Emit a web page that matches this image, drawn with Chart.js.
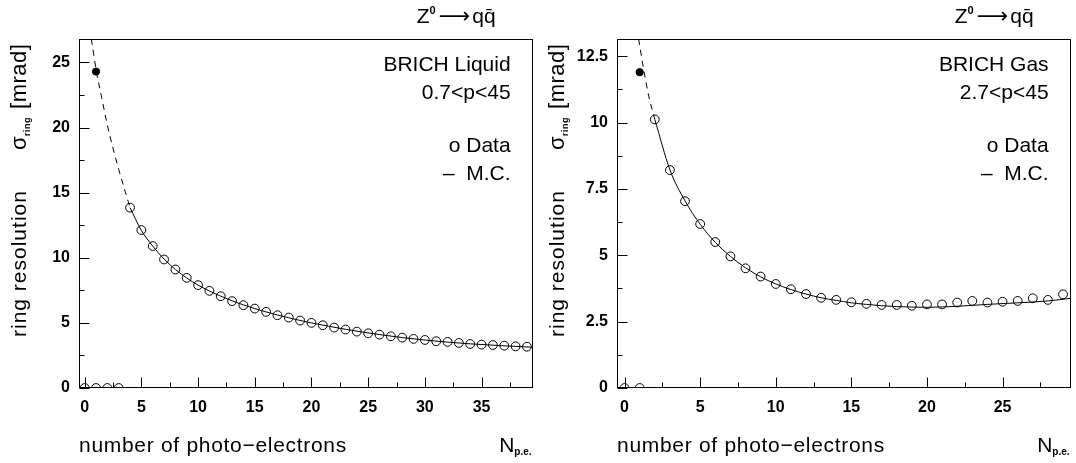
<!DOCTYPE html>
<html>
<head>
<meta charset="utf-8">
<script src="https://cdn.jsdelivr.net/npm/chart.js@4.4.1/dist/chart.umd.min.js"></script>
<style>
    html, body { margin: 0; padding: 0; background: #fff; }
    #wrap { position: relative; width: 1076px; height: 463px; }
    canvas { position: absolute; top: 0; }
</style>
</head>
<body>
<div id="wrap">
    <canvas id="liquid" width="538" height="463" style="left:0px"></canvas>
    <canvas id="gas" width="539" height="463" style="left:537px"></canvas>
</div>
<script>
// BRICH liquid radiator
const liquidN = [4, 5, 6, 7, 8, 9, 10, 11, 12, 13, 14, 15, 16, 17, 18, 19, 20, 21, 22, 23, 24, 25, 26, 27, 28, 29, 30, 31, 32, 33, 34, 35, 36, 37, 38, 39];
const liquidSigma = [13.85, 12.13, 10.9, 9.87, 9.1, 8.46, 7.9, 7.46, 7.05, 6.67, 6.36, 6.1, 5.85, 5.59, 5.41, 5.18, 5.0, 4.82, 4.64, 4.49, 4.33, 4.2, 4.1, 3.97, 3.87, 3.77, 3.69, 3.59, 3.54, 3.46, 3.38, 3.33, 3.3, 3.25, 3.2, 3.17];
const liquidZeroN = [0, 1, 2, 3];
const liquidZeroSigma = [0, 0, 0, 0];
const liquidFirstN = [1];
const liquidFirstSigma = [24.3];
const liquidMcDashN = [0.59, 1, 1.5, 2, 2.5, 3, 3.5, 4];
const liquidMcDashSigma = [26.8, 24.5, 22.3, 20.2, 18.4, 16.8, 15.3, 13.85];
const liquidMcN = [4, 5, 6, 7, 8, 9, 10, 12, 14, 16, 18, 20, 23, 26, 30, 34, 39.5];
const liquidMcSigma = [13.85, 12.1, 10.9, 9.9, 9.1, 8.45, 7.9, 7.05, 6.38, 5.84, 5.39, 5.0, 4.51, 4.1, 3.68, 3.39, 3.13];
const liquidXTicks = [0, 5, 10, 15, 20, 25, 30, 35];
const liquidXMinor = [2.5, 7.5, 12.5, 17.5, 22.5, 27.5, 32.5, 37.5];
const liquidYTicks = [0, 5, 10, 15, 20, 25];
const liquidYMinor = [2.5, 7.5, 12.5, 17.5, 22.5];

// BRICH gas radiator
const gasN = [2, 3, 4, 5, 6, 7, 8, 9, 10, 11, 12, 13, 14, 15, 16, 17, 18, 19, 20, 21, 22, 23, 24, 25, 26, 27, 28, 29];
const gasSigma = [10.12, 8.21, 7.04, 6.18, 5.5, 4.96, 4.51, 4.2, 3.92, 3.72, 3.54, 3.4, 3.32, 3.23, 3.17, 3.13, 3.13, 3.1, 3.15, 3.15, 3.22, 3.28, 3.22, 3.25, 3.28, 3.38, 3.32, 3.53];
const gasZeroN = [0, 1];
const gasZeroSigma = [0, 0];
const gasFirstN = [1];
const gasFirstSigma = [11.9];
const gasMcDashN = [0.93, 1.25, 1.6, 2];
const gasMcDashSigma = [13.15, 12.05, 11.0, 10.12];
const gasMcN = [2, 3, 4, 5, 6, 7, 8, 9, 10, 11, 12, 13, 14, 15, 16, 17, 18, 19, 20, 22, 24, 26, 28, 29.5];
const gasMcSigma = [10.12, 8.22, 7.05, 6.17, 5.49, 4.96, 4.53, 4.19, 3.92, 3.71, 3.54, 3.4, 3.3, 3.21, 3.15, 3.1, 3.07, 3.05, 3.04, 3.08, 3.15, 3.21, 3.28, 3.38];
const gasXTicks = [0, 5, 10, 15, 20, 25];
const gasXMinor = [2.5, 7.5, 12.5, 17.5, 22.5, 27.5];
const gasYTicks = [0, 2.5, 5, 7.5, 10, 12.5];
const gasYMinor = [1.25, 3.75, 6.25, 8.75, 11.25];

const FONT = "'Liberation Sans', Arial, sans-serif";

function pts(xs, ys) {
    return xs.map((x, i) => ({ x: x, y: ys[i] }));
}

// draws a row of text pieces (font / vertical shift) starting at x, baseline y
function drawPieces(ctx, pieces, x, y, align) {
    let total = 0;
    for (let p of pieces) {
        ctx.font = p.font;
        total += ctx.measureText(p.t).width + (p.gap || 0);
    }
    let cx = align === "right" ? x - total : x;
    ctx.textAlign = "left";
    ctx.textBaseline = "alphabetic";
    for (let p of pieces) {
        ctx.font = p.font;
        ctx.fillText(p.t, cx, y + (p.dy || 0));
        cx += ctx.measureText(p.t).width + (p.gap || 0);
    }
}

const framePlugin = {
    id: "frame",
    afterDatasetsDraw(chart, args, opts) {
        const ctx = chart.ctx;
        const a = chart.chartArea;
        const xs = chart.scales.x;
        const ys = chart.scales.y;
        const L = Math.round(a.left) + 0.5, R = Math.round(a.right) - 0.5;
        const T = Math.round(a.top) + 0.5, B = Math.round(a.bottom) - 0.5;
        ctx.save();
        ctx.strokeStyle = "#000";
        ctx.lineWidth = 1;
        ctx.strokeRect(L, T, R - L, B - T);
        ctx.beginPath();
        for (let v of opts.xMajor) {
            let px = Math.round(xs.getPixelForValue(v)) + 0.5;
            ctx.moveTo(px, B); ctx.lineTo(px, B - 10);
        }
        for (let v of opts.xMinor) {
            let px = Math.round(xs.getPixelForValue(v)) + 0.5;
            ctx.moveTo(px, B); ctx.lineTo(px, B - 5);
        }
        for (let v of opts.yMajor) {
            let py = Math.round(ys.getPixelForValue(v)) + 0.5;
            ctx.moveTo(L, py); ctx.lineTo(L + 10, py);
        }
        for (let v of opts.yMinor) {
            let py = Math.round(ys.getPixelForValue(v)) + 0.5;
            ctx.moveTo(L, py); ctx.lineTo(L + 5, py);
        }
        ctx.stroke();
        ctx.restore();
    },
    afterDraw(chart, args, opts) {
        const ctx = chart.ctx;
        const a = chart.chartArea;
        ctx.save();
        ctx.fillStyle = "#000";

        // process label
        drawPieces(ctx, [
            { t: "Z", font: "21px " + FONT },
            { t: "0", font: "bold 11px " + FONT, dy: -9, gap: 3 },
            { t: "\u27F6", font: "22px 'DejaVu Sans'", gap: 2 },
            { t: "qq\u0304", font: "21px " + FONT }
        ], a.right - 37, a.top - 16, "right");

        // legend text
        const lx = a.right - 22;
        drawPieces(ctx, [{ t: opts.name, font: "21px " + FONT }], lx, a.top + 32, "right");
        drawPieces(ctx, [{ t: opts.range, font: "21px " + FONT }], lx, a.top + 60, "right");
        drawPieces(ctx, [{ t: "o Data", font: "21px " + FONT }], lx, a.top + 113, "right");
        drawPieces(ctx, [{ t: "\u2013  M.C.", font: "21px " + FONT }], lx, a.top + 141, "right");

        // x title
        ctx.letterSpacing = "0.7px";
        drawPieces(ctx, [{ t: "number of photo\u2212electrons", font: "21px " + FONT }], a.left, a.bottom + 64, "left");
        ctx.letterSpacing = "0px";
        drawPieces(ctx, [
            { t: "N", font: "21px " + FONT },
            { t: "p.e.", font: "bold 10px " + FONT, dy: 3 }
        ], a.right - 1, a.bottom + 64, "right");

        // y title, rotated
        ctx.save();
        ctx.translate(a.left - 53, a.bottom - 51);
        ctx.rotate(-Math.PI / 2);
        ctx.letterSpacing = "1px";
        drawPieces(ctx, [{ t: "ring resolution", font: "21px " + FONT }], 0, 0, "left");
        ctx.letterSpacing = "0px";
        ctx.restore();

        ctx.save();
        ctx.translate(a.left - 53, a.top + 111);
        ctx.rotate(-Math.PI / 2);
        ctx.letterSpacing = "0.5px";
        drawPieces(ctx, [
            { t: "\u03C3", font: "22px " + FONT },
            { t: "ring", font: "bold 9px " + FONT, dy: 4, gap: 8 },
            { t: "[mrad]", font: "22px " + FONT }
        ], 0, 0, "left");
        ctx.letterSpacing = "0px";
        ctx.restore();

        ctx.restore();
    }
};

function makePanel(canvasId, p) {
    const canvas = document.getElementById(canvasId);
    return new Chart(canvas, {
        type: "scatter",
        data: {
            datasets: [
                {
                    data: pts(p.mcDashN, p.mcDashSigma),
                    showLine: true,
                    borderColor: "#000",
                    borderWidth: 1,
                    borderDash: [6, 5],
                    pointRadius: 0,
                    cubicInterpolationMode: "monotone",
                },
                {
                    data: pts(p.mcN, p.mcSigma),
                    showLine: true,
                    borderColor: "#000",
                    borderWidth: 1,
                    pointRadius: 0,
                    cubicInterpolationMode: "monotone",
                },
                {
                    data: pts(p.n, p.sigma),
                    pointRadius: 4.4,
                    pointBorderWidth: 1,
                    borderColor: "#000",
                    backgroundColor: "rgba(0,0,0,0)",
                },
                {
                    data: pts(p.zeroN, p.zeroSigma),
                    pointRadius: 4.4,
                    pointBorderWidth: 1,
                    borderColor: "#000",
                    backgroundColor: "rgba(0,0,0,0)",
                },
                {
                    data: pts(p.firstN, p.firstSigma),
                    pointRadius: 3.6,
                    pointBorderWidth: 1,
                    borderColor: "#000",
                    backgroundColor: "#000",
                },
            ],
        },
        options: {
            responsive: false,
            animation: false,
            devicePixelRatio: 1,
            layout: { padding: { left: 0, right: 5, top: 39, bottom: 0 } },
            plugins: {
                legend: { display: false },
                tooltip: { enabled: false },
                frame: {
                    xMajor: p.xTicks, xMinor: p.xMinor,
                    yMajor: p.yTicks, yMinor: p.yMinor,
                    name: p.name, range: p.range,
                },
            },
            scales: {
                x: {
                    type: "linear",
                    min: p.xMin,
                    max: p.xMax,
                    grid: { display: false, drawTicks: false },
                    border: { display: false },
                    ticks: {
                        color: "#000",
                        padding: 10,
                        maxRotation: 0,
                        font: { family: FONT, size: 16, weight: "bold" },
                    },
                    afterBuildTicks: (scale) => {
                        scale.ticks = p.xTicks.map((v) => ({ value: v }));
                    },
                    afterFit: (scale) => {
                        scale.height = 75;
                    },
                },
                y: {
                    type: "linear",
                    min: 0,
                    max: p.yMax,
                    grid: { display: false, drawTicks: false },
                    border: { display: false },
                    ticks: {
                        color: "#000",
                        padding: 9,
                        font: { family: FONT, size: 16, weight: "bold" },
                        callback: (v) => String(v),
                    },
                    afterBuildTicks: (scale) => {
                        scale.ticks = p.yTicks.map((v) => ({ value: v }));
                    },
                    afterFit: (scale) => {
                        scale.width = p.yWidth;
                    },
                },
            },
        },
        plugins: [framePlugin],
    });
}

makePanel("liquid", {
    n: liquidN, sigma: liquidSigma,
    zeroN: liquidZeroN, zeroSigma: liquidZeroSigma,
    firstN: liquidFirstN, firstSigma: liquidFirstSigma,
    mcDashN: liquidMcDashN, mcDashSigma: liquidMcDashSigma,
    mcN: liquidMcN, mcSigma: liquidMcSigma,
    xTicks: liquidXTicks, xMinor: liquidXMinor,
    yTicks: liquidYTicks, yMinor: liquidYMinor,
    xMin: -0.5, xMax: 39.5, yMax: 26.8, yWidth: 79,
    name: "BRICH Liquid", range: "0.7<p<45",
});

makePanel("gas", {
    n: gasN, sigma: gasSigma,
    zeroN: gasZeroN, zeroSigma: gasZeroSigma,
    firstN: gasFirstN, firstSigma: gasFirstSigma,
    mcDashN: gasMcDashN, mcDashSigma: gasMcDashSigma,
    mcN: gasMcN, mcSigma: gasMcSigma,
    xTicks: gasXTicks, xMinor: gasXMinor,
    yTicks: gasYTicks, yMinor: gasYMinor,
    xMin: -0.5, xMax: 29.5, yMax: 13.15, yWidth: 80,
    name: "BRICH Gas", range: "2.7<p<45",
});
</script>
</body>
</html>
